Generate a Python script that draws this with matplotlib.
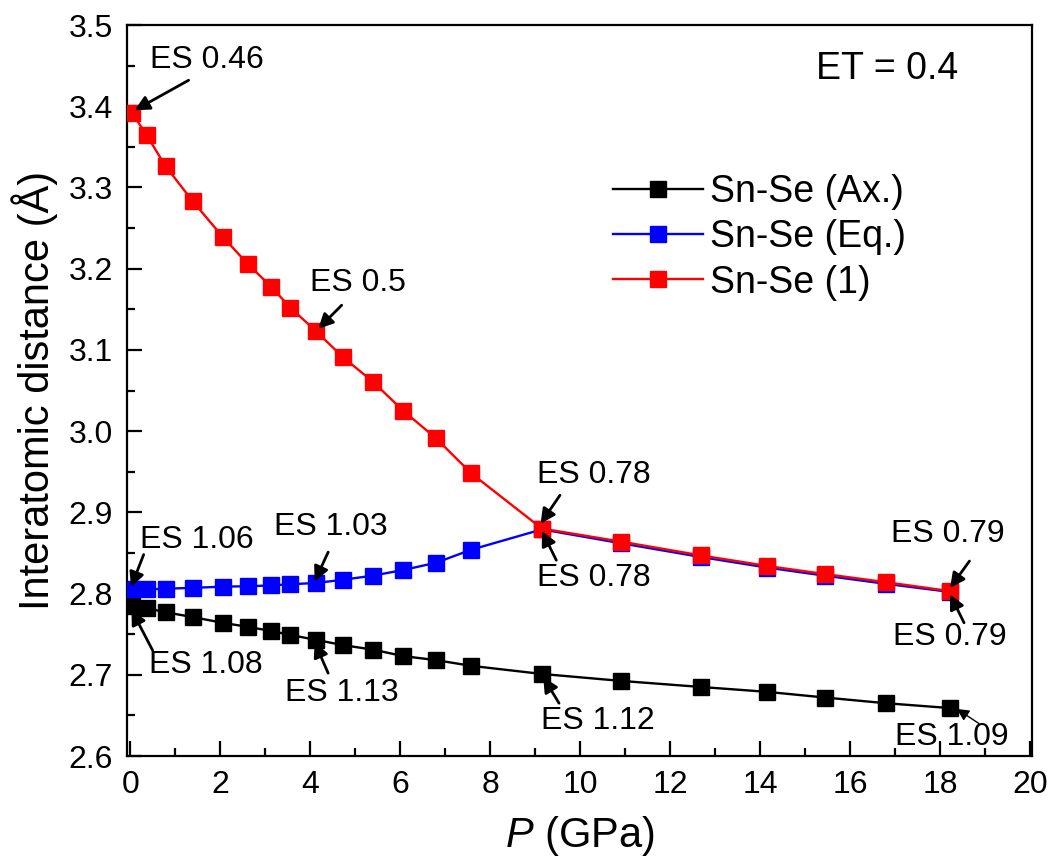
import matplotlib
matplotlib.use("Agg")
import matplotlib.pyplot as plt
from matplotlib.ticker import MultipleLocator

plt.rcParams['font.family'] = ['Liberation Sans', 'DejaVu Sans']
plt.rcParams['mathtext.fontset'] = 'custom'
plt.rcParams['mathtext.it'] = 'Liberation Sans:italic'

# pressure (GPa), shared by all three bonds
P = [0.04, 0.37, 0.79, 1.39, 2.06, 2.61, 3.13, 3.56, 4.13, 4.73, 5.39,
     6.07, 6.80, 7.58, 9.15, 10.90, 12.68, 14.15, 15.44, 16.79, 18.22]

d_ax = [2.785, 2.782, 2.777, 2.771, 2.764, 2.759, 2.754, 2.749, 2.743, 2.7365, 2.731,
        2.723, 2.718, 2.711, 2.701, 2.6925, 2.685, 2.679, 2.672, 2.665, 2.659]
d_eq = [2.805, 2.805, 2.806, 2.807, 2.8085, 2.809, 2.810, 2.8115, 2.813, 2.817, 2.822,
        2.829, 2.838, 2.854, 2.879, 2.862, 2.845, 2.832, 2.822, 2.812, 2.802]
d_1 = [3.392, 3.364, 3.326, 3.283, 3.239, 3.206, 3.178, 3.152, 3.123, 3.091, 3.061,
       3.025, 2.991, 2.948, 2.880, 2.864, 2.847, 2.834, 2.824, 2.814, 2.803]

labels = ['Sn-Se (Ax.)', 'Sn-Se (Eq.)', 'Sn-Se (1)']

fig = plt.figure(figsize=(10.49, 8.6), dpi=100)
ax = fig.add_axes([127/1049, 1 - 756/860, 905/1049, 731/860])

ax.plot(P, d_ax, color='k', marker='s', ms=11, lw=1.7, label=labels[0], zorder=3)
ax.plot(P, d_eq, color='#0000ff', marker='s', ms=11, lw=1.7, label=labels[1], zorder=4)
ax.plot(P, d_1, color='#ff0000', marker='s', ms=11, lw=1.7, label=labels[2], zorder=5)

ax.set_xlim(-0.07, 20.04)
ax.set_ylim(2.6, 3.5)
ax.xaxis.set_major_locator(MultipleLocator(2))
ax.xaxis.set_minor_locator(MultipleLocator(1))
ax.yaxis.set_major_locator(MultipleLocator(0.1))
ax.yaxis.set_minor_locator(MultipleLocator(0.05))
ax.tick_params(which='both', direction='in', top=False, right=False, width=1.6)
ax.tick_params(which='major', length=11, labelsize=23, pad=10)
ax.tick_params(which='minor', length=6)
for s in ax.spines.values():
    s.set_linewidth(1.6)

ax.set_xlabel('$P$ (GPa)', fontsize=30, labelpad=10)
ax.set_ylabel('Interatomic distance (Å)', fontsize=30, labelpad=8)

ax.text(0.918, 0.94, 'ET = 0.4', transform=ax.transAxes, fontsize=27, ha='right', va='center')

ax.legend(loc='upper left', bbox_to_anchor=(0.516, 0.822), frameon=False, fontsize=27,
          handlelength=2.4, handletextpad=0.2, labelspacing=0.25, borderpad=0)

# ES labels: (text, text pos, arrow tail, arrow head)
notes = [
    ('ES 0.46', (0.44, 3.457), (1.30, 3.432), (0.10, 3.395)),
    ('ES 0.5', (4.0, 3.182), (4.70, 3.155), (4.18, 3.126)),
    ('ES 1.06', (0.22, 2.866), (0.30, 2.848), (0.02, 2.808)),
    ('ES 1.03', (3.20, 2.882), (4.40, 2.851), (4.10, 2.815)),
    ('ES 1.08', (0.42, 2.712), (0.50, 2.730), (0.03, 2.780)),
    ('ES 1.13', (3.45, 2.677), (4.40, 2.702), (4.10, 2.740)),
    ('ES 0.78', (9.04, 2.946), (9.55, 2.921), (9.12, 2.886)),
    ('ES 0.78', (9.04, 2.819), (9.47, 2.841), (9.15, 2.877)),
    ('ES 1.12', (9.13, 2.643), (9.53, 2.665), (9.18, 2.697)),
    ('ES 0.79', (16.9, 2.873), (18.65, 2.840), (18.22, 2.807)),
    ('ES 0.79', (16.95, 2.747), (18.53, 2.764), (18.22, 2.799)),
]
for txt, tpos, tail, head in notes:
    ax.text(tpos[0], tpos[1], txt, fontsize=23, ha='left', va='center', zorder=6)
    ax.annotate('', xy=head, xytext=tail, zorder=7,
                arrowprops=dict(arrowstyle='-|>', color='k', lw=2, mutation_scale=22,
                                shrinkA=0, shrinkB=0))

ax.text(17.0, 2.624, 'ES 1.09', fontsize=23, ha='left', va='center', zorder=6)
ax.annotate('', xy=(18.37, 2.658), xytext=(18.86, 2.640), zorder=7,
            arrowprops=dict(arrowstyle='-|>', color='k', lw=1, mutation_scale=18,
                            shrinkA=0, shrinkB=0))

fig.savefig('out.png', dpi=100)
